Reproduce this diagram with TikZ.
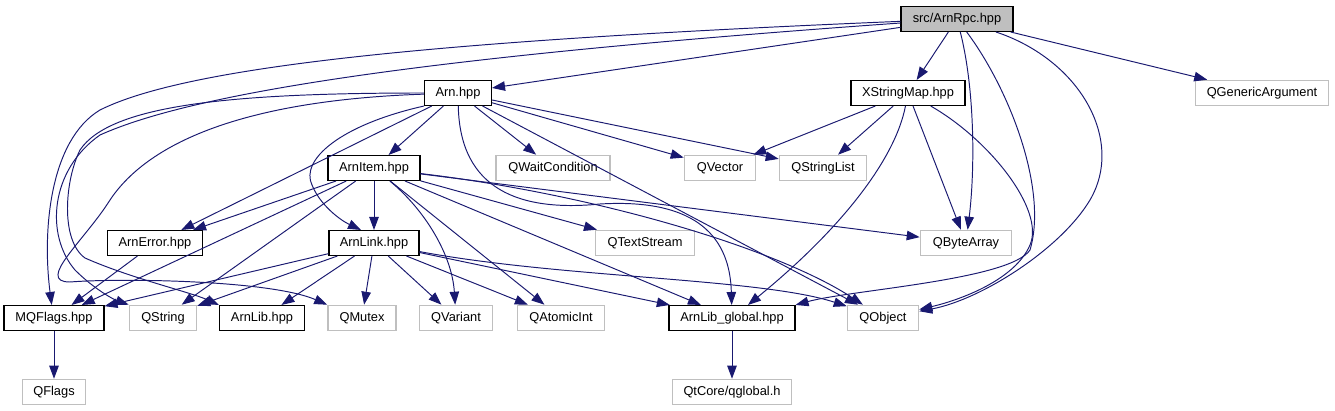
\documentclass[tikz,border=0pt]{standalone}
\usepackage{fontspec}
\setmainfont{Liberation Sans}
\usetikzlibrary{arrows.meta}
\definecolor{edgeblue}{HTML}{191970}
\definecolor{extgray}{HTML}{BFBFBF}

\begin{document}
\begin{tikzpicture}[
      x=0.2mm, y=-0.2mm,
      every node/.style={font=\fontsize{7.3}{8.7}\selectfont},
      box/.style={rectangle, draw, line width=0.6pt, inner sep=0pt, minimum height=5mm, minimum width=#1*0.2mm},
      hdrbox/.style={box=#1},
      rootbox/.style={box=#1, fill=extgray},
      extbox/.style={box=#1, draw=extgray, line width=0.9pt},
      dep/.style={-{Triangle[length=2.6mm,width=1.9mm]}, draw=edgeblue, line width=0.55pt}
    ]
      \useasboundingbox (0,0) rectangle (1335,411);

      % Row 0: the file itself
      \node[rootbox=112] (rpc) at (957,19) {src/ArnRpc.hpp};

      % Row 1
      \node[hdrbox=67] (arn) at (458,93) {Arn.hpp};
      \node[hdrbox=114] (xsm) at (908,93) {XStringMap.hpp};
      \node[extbox=133] (qgen) at (1262,93) {QGenericArgument};

      % Row 2
      \node[hdrbox=92] (item) at (374,168) {ArnItem.hpp};
      \node[extbox=114] (qwait) at (553,168) {QWaitCondition};
      \node[extbox=71] (qvec) at (720,168) {QVector};
      \node[extbox=87] (qsl) at (823,168) {QStringList};

      % Row 3
      \node[hdrbox=95] (err) at (155,243) {ArnError.hpp};
      \node[hdrbox=90] (link) at (374,243) {ArnLink.hpp};
      \node[extbox=99] (qts) at (645,243) {QTextStream};
      \node[extbox=91] (qba) at (966,243) {QByteArray};

      % Row 4
      \node[hdrbox=100] (mqf) at (54,318) {MQFlags.hpp};
      \node[extbox=67] (qstr) at (163,318) {QString};
      \node[hdrbox=85] (lib) at (262,318) {ArnLib.hpp};
      \node[extbox=68] (qmtx) at (362,318) {QMutex};
      \node[extbox=73] (qvar) at (456,318) {QVariant};
      \node[extbox=87] (qatom) at (561,318) {QAtomicInt};
      \node[hdrbox=126] (glob) at (732,318) {ArnLib\_global.hpp};
      \node[extbox=71] (qobj) at (883,318) {QObject};

      % Row 5
      \node[extbox=63] (qflags) at (54,392) {QFlags};
      \node[extbox=119] (qglobal) at (732,392) {QtCore/qglobal.h};

      % === ARROWS ===
      % src/ArnRpc.hpp
      \draw[dep] (rpc) -- (arn);
      \draw[dep] (rpc) -- (xsm);
      \draw[dep] (rpc) -- (qgen);
      \draw[dep] (rpc) .. controls (975,90) and (975,170) .. (qba);
      \draw[dep] (rpc) .. controls (1080,60) and (1125,140) .. (1090,200)
                       .. controls (1060,250) and (980,300) .. (qobj);
      \draw[dep] (rpc) .. controls (1010,90) and (1048,190) .. (1030,250)
                       .. controls (1010,280) and (850,290) .. (glob.north east);
      \draw[dep] (rpc) .. controls (450,40) and (190,65) .. (100,110)
                       .. controls (50,140) and (42,230) .. (mqf.100);
      \draw[dep] (rpc) .. controls (450,55) and (200,90) .. (100,135)
                       .. controls (50,170) and (45,235) .. (75,270)
                       .. controls (95,290) and (115,300) .. (qstr.north west);

      % Arn.hpp
      \draw[dep] (arn) -- (item);
      \draw[dep] (arn) -- (qwait);
      \draw[dep] (arn) -- (qvec);
      \draw[dep] (arn) -- (qsl);
      \draw[dep] (arn) -- (qobj);
      \draw[dep] (arn) -- (err);
      \draw[dep] (arn) .. controls (460,190) and (520,212) .. (600,204)
                       .. controls (700,198) and (730,240) .. (glob);
      \draw[dep] (arn.south west) .. controls (340,125) and (300,160) .. (312,185)
                       .. controls (320,205) and (340,220) .. (link.135);
      \draw[dep] (arn) .. controls (230,93) and (110,105) .. (80,150)
                       .. controls (65,180) and (60,240) .. (85,258)
                       .. controls (130,278) and (190,292) .. (lib.north west);
      \draw[dep] (arn) .. controls (250,100) and (150,140) .. (110,200)
                       .. controls (85,240) and (35,282) .. (70,282)
                       .. controls (120,278) and (270,280) .. (qmtx.north west);

      % XStringMap.hpp
      \draw[dep] (xsm) -- (qvec);
      \draw[dep] (xsm) -- (qsl);
      \draw[dep] (xsm) -- (qba);
      \draw[dep] (xsm) .. controls (895,160) and (840,230) .. (glob);
      \draw[dep] (xsm) .. controls (990,140) and (1045,210) .. (1030,245)
                       .. controls (1015,280) and (960,300) .. (qobj);

      % ArnItem.hpp
      \draw[dep] (item) -- (err);
      \draw[dep] (item) -- (link);
      \draw[dep] (item) -- (mqf);
      \draw[dep] (item) -- (qstr);
      \draw[dep] (item) -- (qatom);
      \draw[dep] (item) -- (glob);
      \draw[dep] (item) -- (qts);
      \draw[dep] (item) -- (qba);
      \draw[dep] (item) .. controls (425,210) and (452,255) .. (qvar);
      \draw[dep] (item) .. controls (600,195) and (780,250) .. (qobj);

      % ArnLink.hpp
      \draw[dep] (link) -- (mqf);
      \draw[dep] (link) -- (qstr);
      \draw[dep] (link) -- (lib);
      \draw[dep] (link) -- (qmtx);
      \draw[dep] (link) -- (qvar);
      \draw[dep] (link) -- (qatom);
      \draw[dep] (link) -- (glob);
      \draw[dep] (link) .. controls (560,278) and (760,278) .. (qobj);

      % leaves
      \draw[dep] (err) -- (mqf);
      \draw[dep] (mqf) -- (qflags);
      \draw[dep] (glob) -- (qglobal);
    \end{tikzpicture}
\end{document}
